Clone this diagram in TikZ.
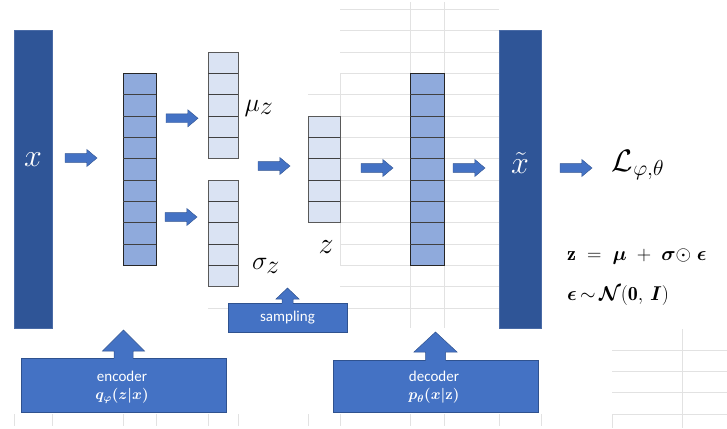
\RequirePackage{fix-cm}
\documentclass[tikz,border=0pt]{standalone}
\usepackage{amsmath,amssymb}
\usepackage{fontspec}
\setsansfont{Carlito}
\usetikzlibrary{shapes.arrows,calc}
\definecolor{darkbar}{HTML}{2F5597}
\definecolor{darkbaredge}{HTML}{4A6BA6}
\definecolor{encfill}{HTML}{8FAADC}
\definecolor{lightfill}{HTML}{DAE3F3}
\definecolor{arrowblue}{HTML}{4472C4}
\definecolor{arrowedge}{HTML}{2F528F}
\definecolor{gridgray}{RGB}{226,226,226}
\newcommand\cellsplit[2]{%
  \pgfmathtruncatemacro\cellm{#2-1}%
  \foreach \i in {1,...,\cellm}{%
    \draw[cellline] ($(#1.north west)!\i/#2!(#1.south west)$) -- ($(#1.north east)!\i/#2!(#1.south east)$);}}
\newcommand\uparr[5]{%
  \fill[arrowblue] ($(#1.north)+(-#5,0.8)$) -- ($(#1.north)+(-#5,-#3)$) -- ($(#1.north)+(-#4,-#3)$) -- ($(#1.north)+(0,-#2)$) -- ($(#1.north)+(#4,-#3)$) -- ($(#1.north)+(#5,-#3)$) -- ($(#1.north)+(#5,0.8)$) -- cycle;
  \draw[arrowedge,line width=0.5pt] ($(#1.north)+(-#5,0)$) -- ($(#1.north)+(-#5,-#3)$) -- ($(#1.north)+(-#4,-#3)$) -- ($(#1.north)+(0,-#2)$) -- ($(#1.north)+(#4,-#3)$) -- ($(#1.north)+(#5,-#3)$) -- ($(#1.north)+(#5,0)$);}
\tikzset{
  gridline/.style={draw=gridgray,line width=0.8pt},
  bigbar/.style={rectangle,fill=darkbar,draw=darkbaredge,line width=0.6pt,outer sep=0pt,inner sep=0pt},
  enccol/.style={rectangle,fill=encfill,draw=black!85,line width=0.7pt,outer sep=0pt,inner sep=0pt},
  latcol/.style={rectangle,fill=lightfill,draw=black!65,line width=0.7pt,outer sep=0pt,inner sep=0pt},
  cellline/.style={line width=0.7pt,draw=black!75},
  barrow/.style={single arrow,fill=arrowblue,draw=arrowedge,line width=0.4pt,minimum height=32pt,
     inner xsep=0pt,inner ysep=4.2pt,single arrow head extend=4.2pt,single arrow tip angle=80,anchor=tail,outer sep=0pt},
  bluebox/.style={rectangle,fill=arrowblue,draw=arrowedge,line width=0.6pt,outer sep=0pt,inner sep=0pt},
  boxtext/.style={text=white,font=\sffamily\fontsize{15}{18}\selectfont,inner sep=0pt},
  biglabel/.style={font=\fontsize{26}{30}\selectfont,inner sep=0pt},
  barlabel/.style={text=white,font=\fontsize{32}{36}\selectfont,inner sep=0pt},
  formula/.style={font=\fontsize{20}{24}\selectfont,inner sep=0pt,anchor=base west}
}
\begin{document}
\begin{tikzpicture}[x=1pt,y=-1pt]
\useasboundingbox (0,0) rectangle (727,428);
% faint spreadsheet grid
\foreach \y in {9.33,30.67,52,73.33,116,137.33,158.67,180,201.33,222.67,244,265.33,286.67,308}
  \draw[gridline] (340,\y) -- (499,\y);
\draw[gridline] (308,94.67) -- (499,94.67);
\draw[gridline] (208,308) -- (228,308);
\draw[gridline] (340,73.33) -- (340,265.33);
\draw[gridline] (410,2) -- (410,328);
\draw[gridline] (444,2) -- (444,328);
\foreach \x in {14,52,123,156,208,238,308,340,410,444,499,541}
  \draw[gridline] (\x,414) -- (\x,426);
\foreach \y in {350,371.33,392.67,414}
  \draw[gridline] (612,\y) -- (727,\y);
\draw[gridline] (682,329) -- (682,428);
\draw[gridline] (612,414) -- (612,428);

% input and output bars
\node[bigbar,minimum width=38pt,minimum height=298pt] (xbar) at (33,179) {};
\node[bigbar,minimum width=42pt,minimum height=298pt] (xtbar) at (520,179) {};
\node[barlabel] (xl) at (33,160) {$x$};
\node[barlabel] (xtl) at (520,163) {$\tilde{x}$};

% columns
\node[enccol,minimum width=33pt,minimum height=192pt] (enc) at (139.5,169.33) {};
\cellsplit{enc}{9}
\node[enccol,minimum width=34pt,minimum height=192pt] (dec) at (427,169.33) {};
\cellsplit{dec}{9}
\node[latcol,minimum width=30pt,minimum height=106.67pt] (mu) at (223,105.33) {};
\cellsplit{mu}{5}
\node[latcol,minimum width=30pt,minimum height=106.67pt] (sig) at (223,233.33) {};
\cellsplit{sig}{5}
\node[latcol,minimum width=32pt,minimum height=106.67pt] (zc) at (324,169.33) {};
\cellsplit{zc}{5}

% labels
\node[biglabel] (mul) at (259,108) {$\mu_{\textstyle z}$};
\node[biglabel] (sigl) at (266,266) {$\sigma_{\textstyle z}$};
\node[biglabel,font=\fontsize{30}{32}\selectfont] (zl) at (326,247) {$z$};
\node[font=\fontsize{31}{33}\selectfont,inner sep=0pt] (loss) at (638,165) {$\mathcal{L}_{\varphi,\theta}$};

% block arrows
\node[barrow] (a1) at (65,158) {};
\node[barrow] (a2) at (166,118.3) {};
\node[barrow] (a3) at (165,217) {};
\node[barrow] (a4) at (258,166) {};
\node[barrow] (a5) at (361,168) {};
\node[barrow] (a6) at (453,168) {};
\node[barrow] (a7) at (560,168) {};

% bottom boxes
\node[bluebox,minimum width=205pt,minimum height=54pt] (encbox) at (123.5,385) {};
\uparr{encbox}{28}{7}{21}{9.5}
\node[boxtext] (enct) at (122,376) {encoder};
\node[boxtext] (encq) at (122,396) {$\boldsymbol{q_{\varphi}(z|x)}$};
\node[bluebox,minimum width=205pt,minimum height=52pt] (decbox) at (435.5,386) {};
\uparr{decbox}{28}{8}{21.5}{10}
\node[boxtext] (dect) at (434,376) {decoder};
\node[boxtext] (decp) at (434,396) {$\boldsymbol{p_{\theta}(x|\mathbf{z})}$};
\node[bluebox,minimum width=119pt,minimum height=29pt] (sampbox) at (287.5,317.5) {};
\uparr{sampbox}{15}{4}{11.5}{5.5}
\node[boxtext] (samp) at (287.5,318) {sampling};

% formulas
\node[formula] (f1) at (567,260) {$\mathbf{z}\;=\;\boldsymbol{\mu}\;+\;\boldsymbol{\sigma}{\odot}\;\boldsymbol{\epsilon}$};
\node[formula] (f2) at (567,300) {$\boldsymbol{\epsilon}\,{\sim}\,\boldsymbol{\mathcal{N}}(\mathbf{0},\,\boldsymbol{I})$};
\end{tikzpicture}
\end{document}
